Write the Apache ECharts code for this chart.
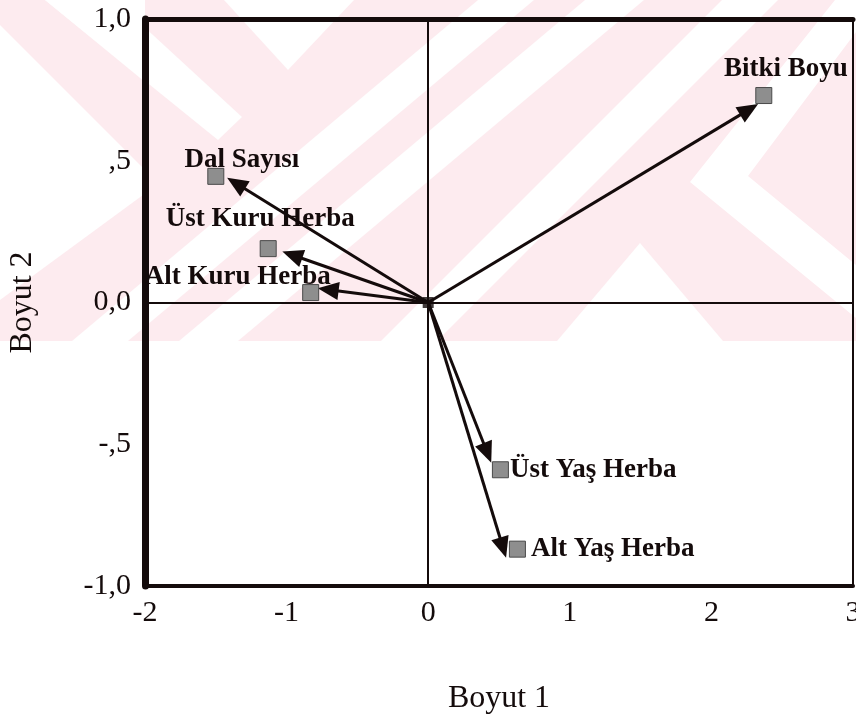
<!DOCTYPE html>
<html>
<head>
<meta charset="utf-8">
<script src="https://cdn.jsdelivr.net/npm/echarts@6/dist/echarts.min.js"></script>
<style>
html,body{margin:0;padding:0;background:#fff;overflow:hidden;}
#chart{width:856px;height:720px;}
</style>
</head>
<body>
<div id="chart"></div>
<script>
// ---- data ----
const categories = ['Bitki Boyu', 'Dal Sayısı', 'Üst Kuru Herba', 'Alt Kuru Herba', 'Üst Yaş Herba', 'Alt Yaş Herba'];
const pointX = [2.37, -1.50, -1.13, -0.83, 0.51, 0.63];
const pointY = [0.73, 0.445, 0.19, 0.035, -0.59, -0.87];
const vectorX = [2.33, -1.42, -1.03, -0.78, 0.445, 0.55];
const vectorY = [0.70, 0.44, 0.18, 0.05, -0.565, -0.90];
const xTickLabels = ['-2', '-1', '0', '1', '2', '3'];
const yTickValues = [-1, -0.5, 0, 0.5, 1];
const yTickLabels = ['-1,0', '-,5', '0,0', ',5', '1,0'];
const xAxisTitle = 'Boyut 1';
const yAxisTitle = 'Boyut 2';

// ---- styling ----
const INK = '#140b0b';
const SERIF = '"Liberation Serif", "Times New Roman", "DejaVu Serif", serif';
const labelStyle = {
  'Bitki Boyu':     { position: 'inside', offset: [22, -27] },
  'Dal Sayısı':     { position: 'inside', offset: [26, -16] },
  'Üst Kuru Herba': { position: 'inside', offset: [-8, -30] },
  'Alt Kuru Herba': { position: 'inside', offset: [-73, -16] },
  'Üst Yaş Herba':  { position: 'right', distance: 1 },
  'Alt Yaş Herba':  { position: 'right', distance: 5 }
};

// faint background watermark (decorative only)
const pink = '#fdebef';
function wm(points) {
  return { type: 'polygon', z: -9, silent: true, shape: { points: points }, style: { fill: '#fff' } };
}
const watermark = [
  { type: 'rect', z: -10, silent: true, shape: { x: 0, y: 0, width: 856, height: 341 }, style: { fill: pink } },
  wm([[45, 0], [115, 0], [242, 117], [218, 140]]),
  wm([[45, 0], [145, 0], [145, 82]]),
  wm([[0, 25], [143, 168], [143, 195], [0, 300]]),
  wm([[224, 0], [354, 0], [288, 70]]),
  wm([[478, 0], [534, 0], [128, 341], [72, 341]]),
  wm([[585, 0], [644, 0], [238, 341], [179, 341]]),
  wm([[722, 0], [778, 0], [437, 341], [381, 341]]),
  wm([[835, 0], [880, 0], [748, 176], [856, 265], [856, 318], [690, 182]]),
  wm([[640, 243], [723, 341], [557, 341]])
];

const chart = echarts.init(document.getElementById('chart'), null, { renderer: 'canvas' });

const xAxisCommon = { type: 'value', min: -2, max: 3, interval: 1, splitLine: { show: false } };
const yAxisCommon = { type: 'value', min: -1, max: 1, interval: 0.5, splitLine: { show: false } };

chart.setOption({
  backgroundColor: '#fff',
  animation: false,
  graphic: watermark,
  grid: { left: 145, right: 3, top: 19, bottom: 134, containLabel: false, outerBoundsMode: 'none' },
  xAxis: [
    Object.assign({}, xAxisCommon, {
      position: 'bottom',
      name: xAxisTitle, nameLocation: 'middle', nameGap: 97,
      nameTextStyle: { fontFamily: SERIF, fontSize: 32, color: INK },
      axisLine: { onZero: false, lineStyle: { color: INK, width: 4 } },
      axisTick: { show: false },
      axisLabel: {
        margin: 12, fontFamily: SERIF, fontSize: 30, color: INK, showMaxLabel: true, showMinLabel: true,
        hideOverlap: false,
        formatter: function (v) { return xTickLabels[Math.round(v + 2)]; }
      }
    }),
    Object.assign({}, xAxisCommon, {
      position: 'top',
      axisLine: { onZero: false, lineStyle: { color: INK, width: 5 } },
      axisTick: { show: false }, axisLabel: { show: false }
    })
  ],
  yAxis: [
    Object.assign({}, yAxisCommon, {
      position: 'left',
      name: yAxisTitle, nameLocation: 'middle', nameGap: 106, nameRotate: 90,
      nameTextStyle: { fontFamily: SERIF, fontSize: 32, color: INK },
      axisLine: { onZero: false, lineStyle: { color: INK, width: 7 } },
      axisTick: { show: false },
      axisLabel: {
        margin: 14, fontFamily: SERIF, fontSize: 30, color: INK,
        formatter: function (v) {
          const i = yTickValues.findIndex(function (t) { return Math.abs(t - v) < 1e-9; });
          return i >= 0 ? yTickLabels[i] : '';
        }
      }
    }),
    Object.assign({}, yAxisCommon, {
      position: 'right',
      axisLine: { onZero: false, lineStyle: { color: INK, width: 2 } },
      axisTick: { show: false }, axisLabel: { show: false }
    })
  ],
  series: [
    {
      type: 'custom',
      name: 'vectors',
      xAxisIndex: 0, yAxisIndex: 0,
      silent: true,
      z: 3,
      data: vectorX.map(function (x, i) { return [x, vectorY[i]]; }),
      renderItem: function (params, api) {
        const p0 = api.coord([0, 0]);
        const p1 = api.coord([api.value(0), api.value(1)]);
        const dx = p1[0] - p0[0], dy = p1[1] - p0[1];
        const len = Math.sqrt(dx * dx + dy * dy);
        const ux = dx / len, uy = dy / len;
        const headLen = 21, headHalf = 9;
        const base = [p1[0] - ux * headLen, p1[1] - uy * headLen];
        const left = [base[0] - uy * headHalf, base[1] + ux * headHalf];
        const right = [base[0] + uy * headHalf, base[1] - ux * headHalf];
        return {
          type: 'group',
          children: [
            { type: 'line', shape: { x1: p0[0], y1: p0[1], x2: base[0] + ux * 2, y2: base[1] + uy * 2 }, style: { stroke: INK, lineWidth: 3 } },
            { type: 'polygon', shape: { points: [p1, left, right] }, style: { fill: INK } }
          ]
        };
      },
      markLine: {
        silent: true,
        symbol: ['none', 'none'],
        label: { show: false },
        lineStyle: { color: INK, width: 2, type: 'solid' },
        data: [{ xAxis: 0 }, { yAxis: 0 }]
      }
    },
    {
      type: 'scatter',
      name: 'variables',
      z: 4,
      symbol: 'rect',
      symbolSize: 16,
      itemStyle: { color: '#8e8e8e', borderColor: '#4a4a4a', borderWidth: 1, opacity: 1 },
      data: categories.map(function (name, i) {
        const ls = labelStyle[name];
        return {
          name: name,
          value: [pointX[i], pointY[i]],
          label: Object.assign({
            show: true, formatter: name,
            fontFamily: SERIF, fontWeight: 'bold', fontSize: 27, color: INK
          }, ls)
        };
      })
    },
    {
      type: 'scatter',
      name: 'origin',
      z: 5,
      symbol: 'rect',
      symbolSize: 11,
      itemStyle: { color: INK },
      data: [[0, 0]]
    }
  ]
});
</script>
</body>
</html>
